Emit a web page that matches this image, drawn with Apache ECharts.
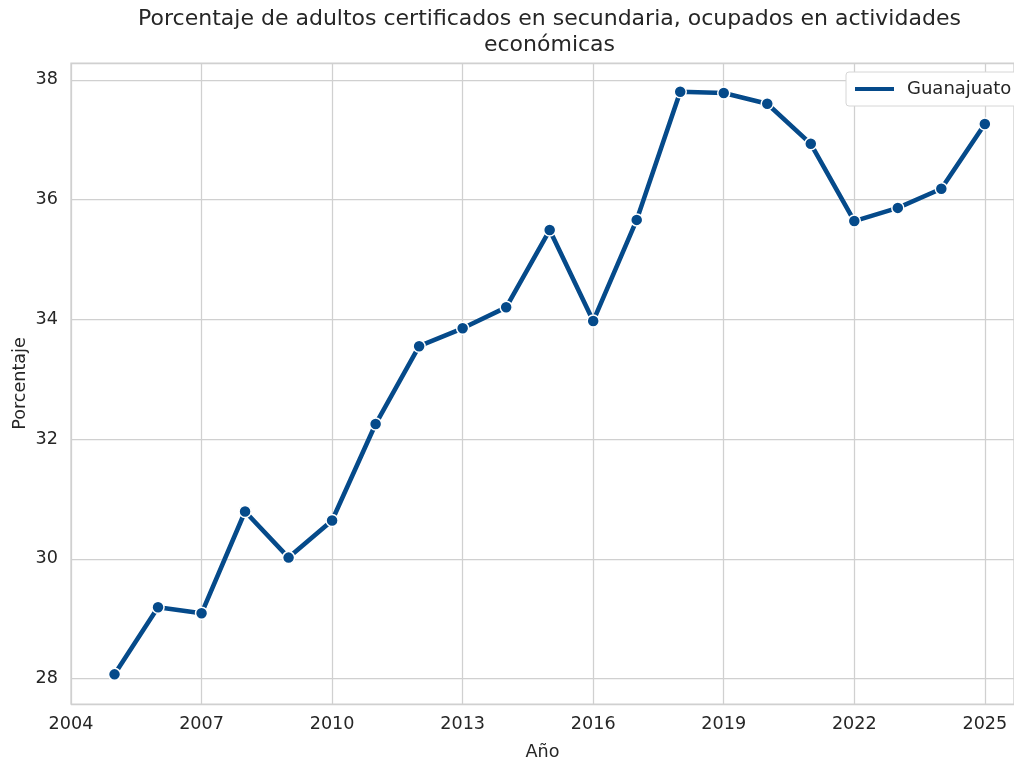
<!DOCTYPE html>
<html><head><meta charset="utf-8">
<script src="https://cdn.jsdelivr.net/npm/echarts@6/dist/echarts.min.js"></script>
<style>html,body{margin:0;padding:0;background:#fff}#c{width:1014px;height:761px}</style>
</head><body><div id="c"></div>
<script>
const years = [2005,2006,2007,2008,2009,2010,2011,2012,2013,2014,2015,2016,2017,2018,2019,2020,2021,2022,2023,2024,2025];
const values = [28.07,29.19,29.09,30.79,30.02,30.64,32.25,33.55,33.85,34.20,35.49,33.97,35.66,37.80,37.78,37.60,36.93,35.64,35.86,36.18,37.26];
const seriesName = 'Guanajuato';
const titleText = 'Porcentaje de adultos certificados en secundaria, ocupados en actividades\neconómicas';
const xName = 'Año';
const yName = 'Porcentaje';

const chart = echarts.init(document.getElementById('c'), null, {renderer:'canvas'});
const font = '"DejaVu Sans", sans-serif';
const tc = '#262626';
const fs = 17.6;
chart.setOption({
  animation:false,
  backgroundColor:'#fff',
  textStyle:{fontFamily:font},
  title:{text:titleText,left:544.5,top:1,textAlign:'center',
    textStyle:{fontFamily:font,fontSize:22,fontWeight:'normal',color:tc,lineHeight:26}},
  legend:{left:846,top:72,orient:'vertical',
    backgroundColor:'#fff',borderColor:'#d6d6d6',borderWidth:1,borderRadius:3,
    padding:[8,12,8,7],itemWidth:39,itemHeight:12,itemGap:6,
    lineStyle:{width:4,color:'#054a8a'},
    itemStyle:{opacity:0},
    textStyle:{fontFamily:font,fontSize:18,color:tc,padding:[0,0,0,8]},
    data:[{name:seriesName}]},
  grid:{left:71,right:0,top:63,bottom:57,show:true,borderColor:'#d0d0d0',borderWidth:1.25,outerBoundsMode:'none'},
  xAxis:{type:'value',min:2004,max:2025.67,interval:3,
    name:xName,nameLocation:'middle',nameGap:39,nameMoveOverlap:false,
    nameTextStyle:{fontFamily:font,fontSize:fs,color:tc},
    axisLine:{show:false},axisTick:{show:false},
    axisLabel:{fontFamily:font,fontSize:fs,color:tc,margin:11,
      formatter:v=>(Number.isInteger(v)?String(v):'')},
    splitLine:{show:true,lineStyle:{color:'#d0d0d0',width:1.25}}},
  yAxis:{type:'value',min:27.575,max:38.28,splitNumber:5,
    name:yName,nameLocation:'middle',nameGap:42,nameMoveOverlap:false,
    nameTextStyle:{fontFamily:font,fontSize:fs,color:tc},
    axisLine:{show:false},axisTick:{show:false},
    axisLabel:{fontFamily:font,fontSize:fs,color:tc,margin:13,showMinLabel:false,showMaxLabel:false,
      formatter:v=>(Math.abs(v-Math.round(v))<1e-6 && Math.round(v)%2===0 ? String(Math.round(v)) : '')},
    splitLine:{show:true,lineStyle:{color:'#d0d0d0',width:1.25}}},
  series:[{name:seriesName,type:'line',
    data:years.map((y,i)=>[y,values[i]]),
    lineStyle:{color:'#054a8a',width:4.6},
    itemStyle:{color:'#054a8a',borderColor:'#fff',borderWidth:1.5},
    symbol:'circle',symbolSize:12,showSymbol:true,
    emphasis:{disabled:true}}]
});
</script></body></html>
